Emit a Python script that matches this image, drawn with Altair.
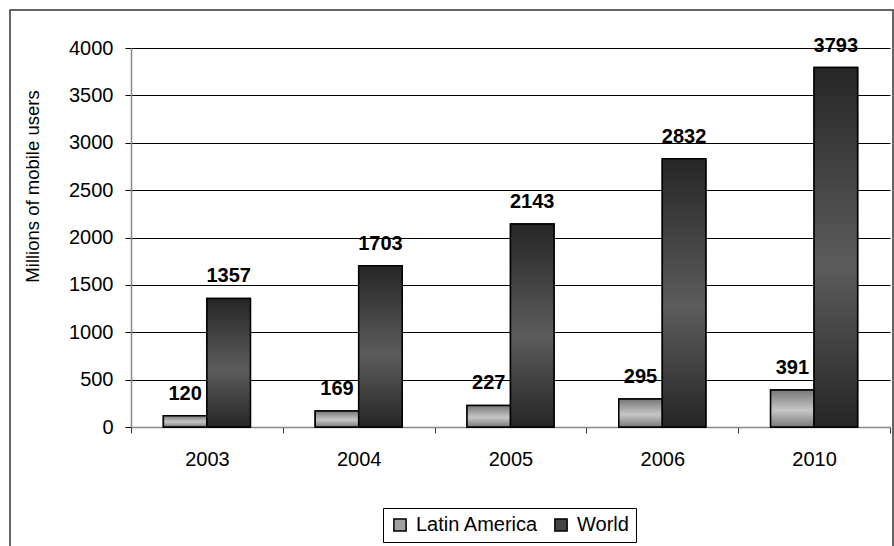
import altair as alt
import pandas as pd

# Mobile subscribers, millions
years = ["2003", "2004", "2005", "2006", "2010"]
latin_america = [120, 169, 227, 295, 391]
world = [1357, 1703, 2143, 2832, 3793]
series = ["Latin America", "World"]
y_ticks = [0, 500, 1000, 1500, 2000, 2500, 3000, 3500, 4000]

rows = []
for yr, la, w in zip(years, latin_america, world):
    rows.append({"year": yr, "series": "Latin America", "users": la})
    rows.append({"year": yr, "series": "World", "users": w})
df = pd.DataFrame(rows)

FONT = "Liberation Sans"
PLOT_W, PLOT_H = 759, 379

x_enc = alt.X(
    "year:N",
    sort=years,
    scale=alt.Scale(paddingInner=0, paddingOuter=0),
    axis=alt.Axis(
        title=None, labelAngle=0, labelFontSize=20, labelColor="black",
        labelPadding=16, tickBand="extent", tickSize=6, tickColor="#333333",
        domainColor="#888888", domainWidth=1.5, grid=False,
    ),
)
xoff_enc = alt.XOffset(
    "series:N",
    scale=alt.Scale(domain=series, paddingInner=0, paddingOuter=0.745),
)
y_enc = alt.Y(
    "users:Q",
    scale=alt.Scale(domain=[0, 4000], nice=False),
    axis=alt.Axis(
        title="Millions of mobile users", titleFontSize=18.5, titleFontWeight="normal",
        titleColor="black", titleX=-89, titleY=138,
        values=y_ticks, format="d", labelFontSize=20, labelColor="black",
        labelPadding=12, tickSize=6, tickColor="black", domainColor="#888888",
        domainWidth=1.5, grid=True, gridColor="black", gridWidth=1,
    ),
)


def gradient(stops):
    return alt.Gradient(
        gradient="linear",
        stops=[alt.GradientStop(color=c, offset=o) for o, c in stops],
        x1=0, x2=0, y1=0, y2=1,
    )


la_grad = gradient([(0, "#777777"), (0.55, "#c6c6c6"), (1, "#7a7a7a")])
world_grad = gradient([(0, "#262626"), (0.55, "#5c5c5c"), (1, "#262626")])

# Outer chart frame (outline only)
frame = alt.Chart(pd.DataFrame({"f": [0]})).mark_rect(
    fillOpacity=0, stroke="#333333", strokeWidth=1.5
).encode(
    x=alt.value(-121), x2=alt.value(762), y=alt.value(-38), y2=alt.value(520)
)

# Solid bars that also provide the legend
base_bars = alt.Chart(df).mark_bar(stroke="black", strokeWidth=1.5).encode(
    x=x_enc,
    xOffset=xoff_enc,
    y=y_enc,
    fill=alt.Fill(
        "series:N",
        scale=alt.Scale(domain=series, range=["#a0a0a0", "#444444"]),
        legend=alt.Legend(
            title=None, orient="none", legendX=252, legendY=460,
            direction="horizontal", strokeColor="black", fillColor="white",
            padding=7, labelFontSize=20, labelColor="black", labelFont=FONT,
            symbolType="square", symbolSize=150, symbolStrokeColor="black",
            symbolStrokeWidth=1.5, columnPadding=12, labelOffset=6,
        ),
    ),
)

la_bars = alt.Chart(df).transform_filter(
    alt.datum.series == "Latin America"
).mark_bar(color=la_grad, stroke="black", strokeWidth=1.5).encode(
    x=x_enc, xOffset=xoff_enc, y=y_enc
)

world_bars = alt.Chart(df).transform_filter(
    alt.datum.series == "World"
).mark_bar(color=world_grad, stroke="black", strokeWidth=1.5).encode(
    x=x_enc, xOffset=xoff_enc, y=y_enc
)

labels = alt.Chart(df).mark_text(
    font=FONT, fontSize=20, fontWeight="bold", color="black",
    baseline="alphabetic", dy=-16,
).encode(
    x=x_enc, xOffset=xoff_enc, y=y_enc, text=alt.Text("users:Q")
)

chart = alt.layer(frame, base_bars, la_bars, world_bars, labels).properties(
    width=PLOT_W,
    height=PLOT_H,
    autosize=alt.AutoSizeParams(type="none"),
    padding={"left": 131, "top": 48, "right": 4, "bottom": 119},
).configure(
    font=FONT,
).configure_view(
    strokeOpacity=0,
).configure_axis(
    labelFont=FONT, titleFont=FONT,
)

chart.save("out.html", embed_options={"renderer": "svg", "actions": False})
